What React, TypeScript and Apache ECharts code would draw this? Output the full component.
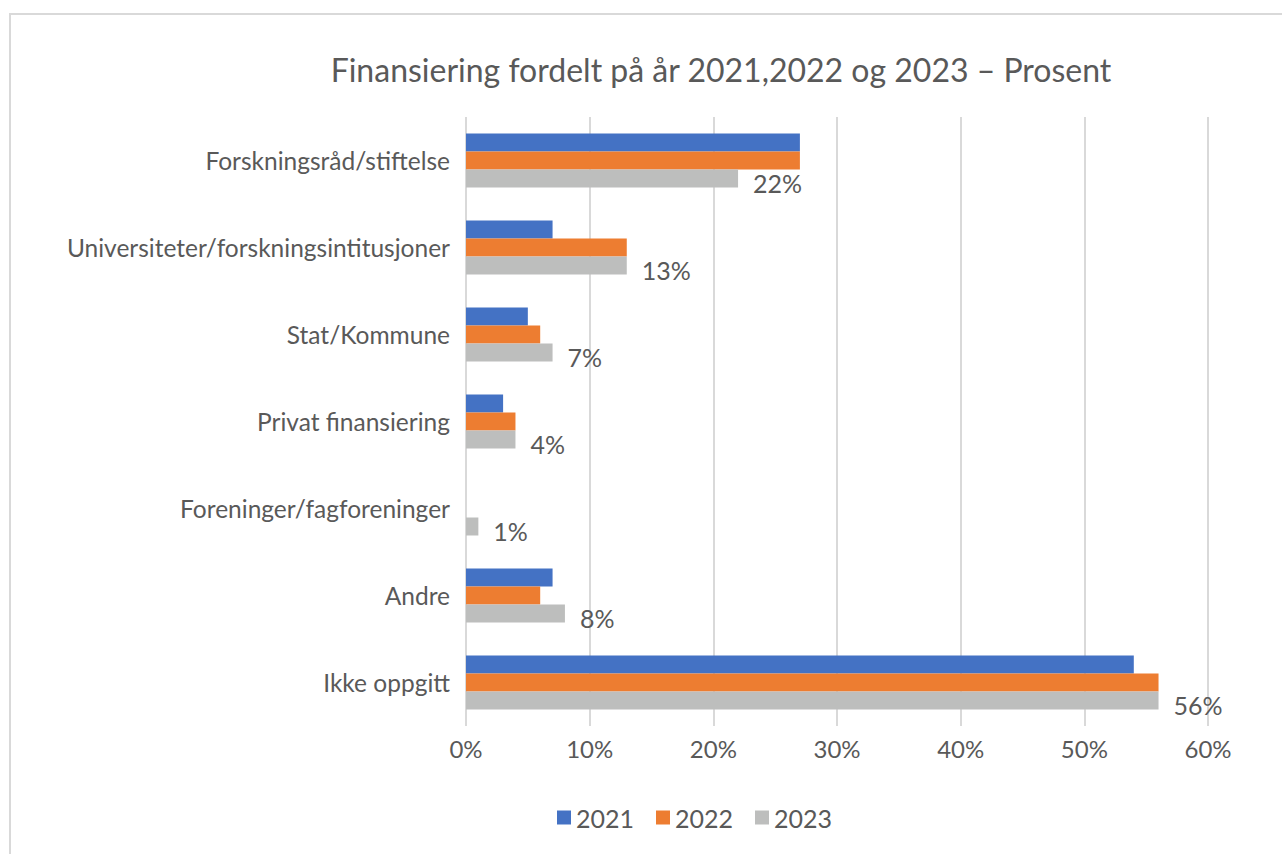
import React, { useEffect, useRef } from "react";
import * as echarts from "echarts";

const categories = [
  "Forskningsråd/stiftelse",
  "Universiteter/forskningsintitusjoner",
  "Stat/Kommune",
  "Privat finansiering",
  "Foreninger/fagforeninger",
  "Andre",
  "Ikke oppgitt",
];
const values2021 = [27, 7, 5, 3, 0, 7, 54];
const values2022 = [27, 13, 6, 4, 0, 6, 56];
const values2023 = [22, 13, 7, 4, 1, 8, 56];
const seriesNames = ["2021", "2022", "2023"];
const colors = ["#4472C4", "#ED7D31", "#BDBEBD"];

const FONT = "Lato, 'Open Sans', sans-serif";
const TXT = "#595959";

export default function App() {
  const ref = useRef<HTMLDivElement>(null);
  useEffect(() => {
    document.body.style.margin = "0";
    const chart = echarts.init(ref.current!, undefined, { renderer: "svg" });
    const data = [values2021, values2022, values2023];
    chart.setOption({
      animation: false,
      backgroundColor: "#ffffff",
      textStyle: { fontFamily: FONT, color: TXT },
      title: {
        text: "Finansiering fordelt på år 2021,2022 og 2023 – Prosent",
        left: 716,
        textAlign: "center",
        top: 48,
        textStyle: { fontFamily: FONT, fontSize: 32, fontWeight: "normal", color: TXT },
      },
      graphic: [
        {
          type: "rect",
          shape: { x: 10, y: 14, width: 1400, height: 1000 },
          style: { fill: "none", stroke: "#d9d9d9", lineWidth: 2 },
          silent: true,
        },
      ],
      legend: {
        data: seriesNames,
        left: 552,
        top: 800,
        itemWidth: 14,
        itemHeight: 14,
        itemGap: 22,
        icon: "rect",
        textStyle: { fontFamily: FONT, fontSize: 25, color: TXT },
      },
      grid: { left: 466, right: 74, top: 117, bottom: 128, containLabel: false },
      xAxis: {
        type: "value",
        min: 0,
        max: 60,
        interval: 10,
        axisLine: { show: false },
        axisTick: { show: false },
        axisLabel: {
          formatter: "{value}%",
          fontFamily: FONT,
          fontSize: 24,
          color: TXT,
          margin: 10,
        },
        splitLine: { show: true, lineStyle: { color: "#d9d9d9", width: 2 } },
      },
      yAxis: {
        type: "category",
        data: categories,
        inverse: true,
        axisLine: { show: false },
        axisTick: { show: false },
        axisLabel: { fontFamily: FONT, fontSize: 24.5, color: TXT, margin: 16 },
        splitLine: { show: false },
      },
      series: seriesNames.map((name, i) => ({
        name,
        type: "bar",
        data: data[i],
        barWidth: 18,
        barGap: "0%",
        itemStyle: { color: colors[i] },
        label:
          i === 2
            ? {
                show: true,
                position: "right",
                distance: 15,
                offset: [0, 4],
                formatter: "{c}%",
                fontFamily: FONT,
                fontSize: 25,
                color: TXT,
              }
            : { show: false },
      })),
    });
    return () => chart.dispose();
  }, []);
  return (
    <div
      ref={ref}
      style={{ position: "absolute", left: 0, top: 0, width: 1282, height: 854 }}
    />
  );
}
